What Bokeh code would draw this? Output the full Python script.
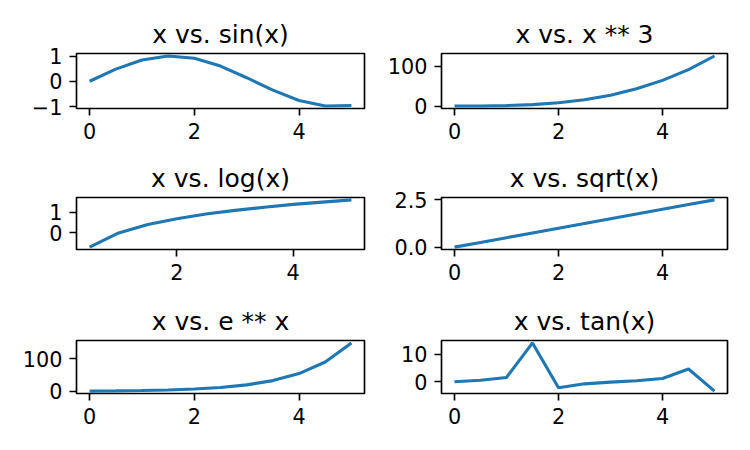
from bokeh.plotting import figure
from bokeh.layouts import gridplot
from bokeh.models import Range1d, FixedTicker
from bokeh.embed import file_html
from bokeh.resources import INLINE

# ---- data ----
x = [0.0, 0.5, 1.0, 1.5, 2.0, 2.5, 3.0, 3.5, 4.0, 4.5, 5.0]
x_log = [0.5, 1.0, 1.5, 2.0, 2.5, 3.0, 3.5, 4.0, 4.5, 5.0]

y_sin = [0.0, 0.48, 0.84, 1.0, 0.91, 0.60, 0.14, -0.35, -0.76, -0.98, -0.96]
y_cube = [0.0, 0.1, 1.0, 3.4, 8.0, 15.6, 27.0, 42.9, 64.0, 91.1, 125.0]
y_log = [-0.69, 0.0, 0.41, 0.69, 0.92, 1.10, 1.25, 1.39, 1.50, 1.61]
y_sqrt = [0.0, 0.25, 0.5, 0.75, 1.0, 1.25, 1.5, 1.75, 2.0, 2.25, 2.5]
y_exp = [1.0, 1.6, 2.7, 4.5, 7.4, 12.2, 20.1, 33.1, 54.6, 90.0, 148.4]
y_tan = [0.0, 0.55, 1.56, 14.1, -2.19, -0.75, -0.14, 0.37, 1.16, 4.64, -3.38]

titles = ["x vs. sin(x)", "x vs. x ** 3", "x vs. log(x)",
          "x vs. sqrt(x)", "x vs. e ** x", "x vs. tan(x)"]

xticks_main = [0, 2, 4]
xticks_log = [2, 4]
yticks_sin = [-1, 0, 1]
ytick_labels_sin = ["\u22121", "0", "1"]
yticks_cube = [0, 100]
yticks_log = [0, 1]
yticks_sqrt = [0.0, 2.5]
ytick_labels_sqrt = ["0.0", "2.5"]
yticks_exp = [0, 100]
yticks_tan = [0, 10]

COLOR = "#1f77b4"
FONT = "DejaVu Sans"


def margin_range(vals, frac=0.05):
    lo, hi = min(vals), max(vals)
    d = (hi - lo) * frac
    return Range1d(lo - d, hi + d)


def make(title, xs, ys, xt, yt, ylabels, col, row):
    # layout geometry per column / row
    if col == 0:
        bl, br, fw = 76, 11, 288
    else:
        bl, br, fw = 66, 23, 286
    bt, bb, fh = [(53, 42, 55), (47, 51, 52), (39, 58, 53)][row]
    p = figure(output_backend="svg", toolbar_location=None,
               frame_width=fw, frame_height=fh,
               min_border_left=bl, min_border_right=br,
               min_border_top=bt, min_border_bottom=bb,
               x_range=margin_range(xs), y_range=margin_range(ys),
               title=title)
    p.line(xs, ys, line_color=COLOR, line_width=3.1)
    p.title.align = "center"
    p.title.text_font = FONT
    p.title.text_font_size = "25px"
    p.title.text_font_style = "normal"
    p.title.text_color = "black"
    p.title.standoff = 9
    p.grid.visible = False
    p.outline_line_color = "black"
    p.outline_line_width = 1.67
    p.outline_line_alpha = 1.0
    p.background_fill_color = "white"
    p.border_fill_color = "white"
    for ax in (p.xaxis[0], p.yaxis[0]):
        ax.axis_line_color = None
        ax.major_tick_in = 0
        ax.major_tick_out = 7
        ax.major_tick_line_width = 1.67
        ax.major_tick_line_color = "black"
        ax.minor_tick_line_color = None
        ax.major_label_text_font = FONT
        ax.major_label_text_font_size = "20.8px"
        ax.major_label_text_color = "black"
        ax.major_label_standoff = 7
    p.xaxis[0].ticker = FixedTicker(ticks=xt)
    p.yaxis[0].ticker = FixedTicker(ticks=yt)
    if ylabels is not None:
        p.yaxis[0].major_label_overrides = {t: l for t, l in zip(yt, ylabels)}
    return p


p1 = make(titles[0], x, y_sin, xticks_main, yticks_sin, ytick_labels_sin, 0, 0)
p2 = make(titles[1], x, y_cube, xticks_main, yticks_cube, None, 1, 0)
p3 = make(titles[2], x_log, y_log, xticks_log, yticks_log, None, 0, 1)
p4 = make(titles[3], x, y_sqrt, xticks_main, yticks_sqrt, ytick_labels_sqrt, 1, 1)
p5 = make(titles[4], x, y_exp, xticks_main, yticks_exp, None, 0, 2)
p6 = make(titles[5], x, y_tan, xticks_main, yticks_tan, None, 1, 2)

grid = gridplot([[p1, p2], [p3, p4], [p5, p6]], toolbar_location=None)

open("out.html", "w").write(file_html(grid, INLINE))
